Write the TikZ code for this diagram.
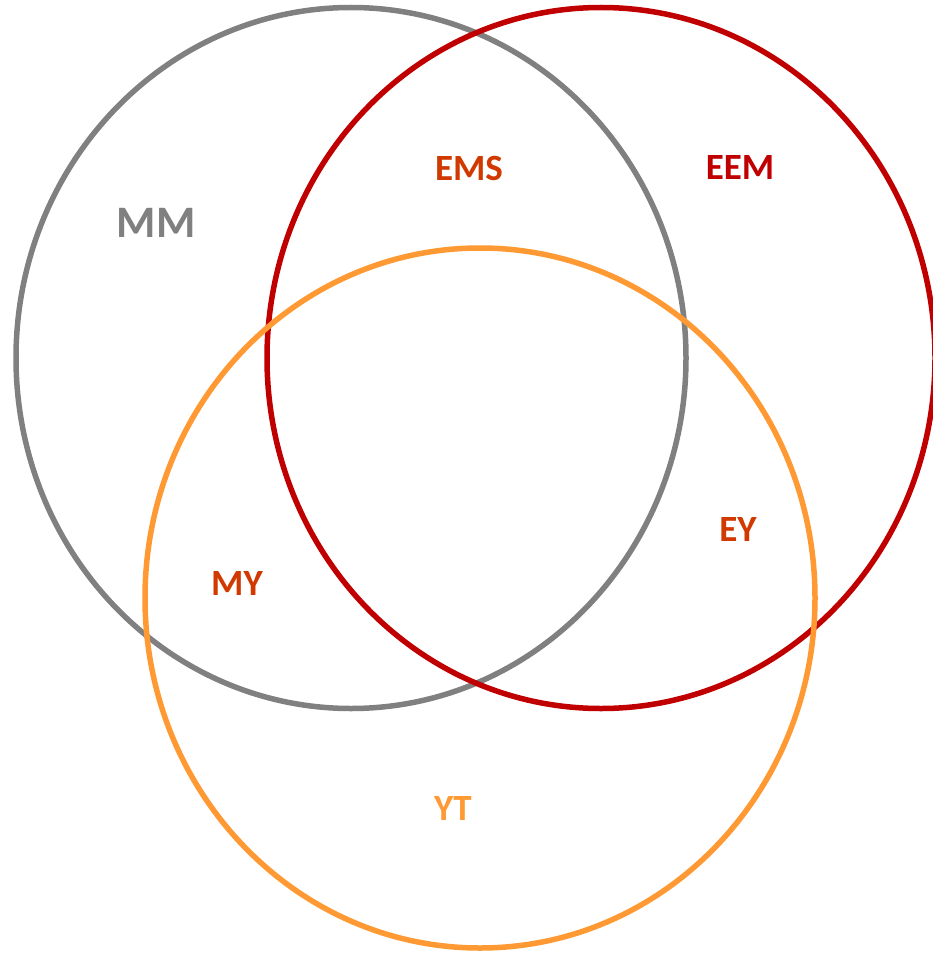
\documentclass[tikz,border=0pt]{standalone}
\usepackage{fontspec}
\setmainfont{Carlito}
\definecolor{cgray}{HTML}{808080}
\definecolor{cred}{HTML}{C00000}
\definecolor{corange}{HTML}{FF9933}
\definecolor{clabel}{HTML}{D03A00}
\begin{document}
\begin{tikzpicture}[x=1pt,y=-1pt,
  ring/.style={line width=5.5pt},
  lbl/.style={font=\bfseries\fontsize{37}{37}\selectfont, inner sep=0pt, anchor=center}]
\useasboundingbox (0,0) rectangle (932,955);
\draw[ring, cgray] (351,358) ellipse [x radius=335, y radius=350.5];
\draw[ring, cred] (601,358) ellipse [x radius=334, y radius=350.5];
\draw[ring, corange] (480,598) ellipse [x radius=335, y radius=350];
\node[lbl, text=cgray, font=\bfseries\fontsize{45}{45}\selectfont] (mm) at (156,223) {MM};
\node[lbl, text=clabel] (ems) at (469,168) {EMS};
\node[lbl, text=cred] (eem) at (740,168) {EEM};
\node[lbl, text=clabel] (ey) at (738,529) {EY};
\node[lbl, text=clabel] (my) at (237,583) {MY};
\node[lbl, text=corange] (yt) at (453,808) {YT};
\end{tikzpicture}
\end{document}
